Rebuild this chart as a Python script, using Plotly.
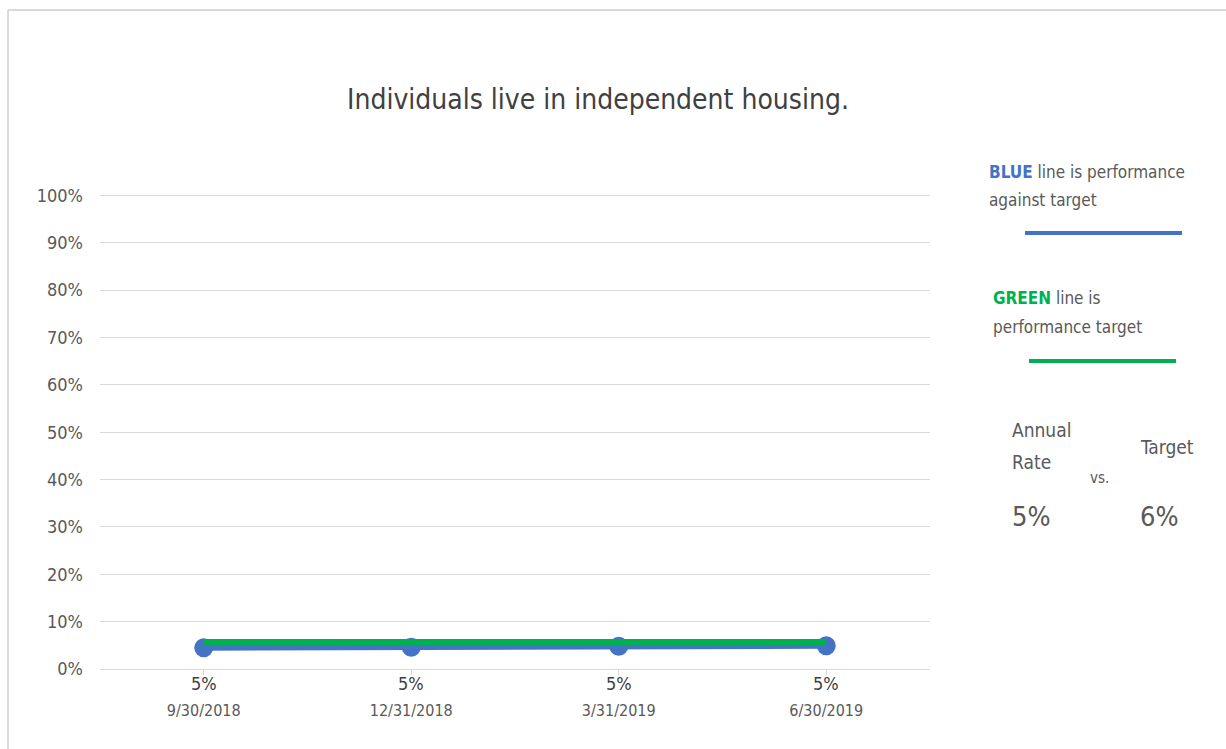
import plotly.graph_objects as go

categories = ["9/30/2018", "12/31/2018", "3/31/2019", "6/30/2019"]
performance = [0.045, 0.046, 0.048, 0.049]
target = [0.057, 0.057, 0.057, 0.057]
data_labels = ["5%", "5%", "5%", "5%"]
annual_rate = "5%"
annual_target = "6%"
title_text = "Individuals live in independent housing."

FONT = "Liberation Sans Narrow, DejaVu Sans Condensed, Open Sans, sans-serif"
GREY = "#595959"
BLUE = "#4472C4"
GREEN = "#00B050"

fig = go.Figure()
fig.add_trace(go.Scatter(
    x=categories, y=performance, mode="lines+markers",
    line=dict(color=BLUE, width=6),
    marker=dict(color=BLUE, size=19),
    showlegend=False, hoverinfo="skip"))
fig.add_trace(go.Scatter(
    x=categories, y=target, mode="lines",
    line=dict(color=GREEN, width=6),
    showlegend=False, hoverinfo="skip"))


def sx(v):
    return (v - 100) / 830


def sy(v):
    return (669 - v) / 475


annotations = []
for c, lab in zip(categories, data_labels):
    annotations.append(dict(x=c, y=0, xref="x", yref="y", text=lab,
                            showarrow=False, yshift=-14,
                            font=dict(family=FONT, size=18, color="#404040")))

annotations.append(dict(x=sx(598), y=sy(100), xref="paper", yref="paper", text=title_text,
                        showarrow=False, xanchor="center", yanchor="middle",
                        font=dict(family=FONT, size=28, color="#404040")))

legend_items = [
    (987, 172, f"<b><span style='color:{BLUE}'>BLUE</span></b> line is performance", 17),
    (987, 200, "against target", 17),
    (991, 298, f"<b><span style='color:{GREEN}'>GREEN</span></b> line is", 17),
    (991, 327, "performance target", 17),
    (1010, 430, "Annual", 19),
    (1010, 462, "Rate", 19),
    (1088, 478, "vs.", 15),
    (1138, 447, "Target", 19),
    (1010, 516, annual_rate, 27),
    (1138, 516, annual_target, 27),
]

for xp, yp, t, s in legend_items:
    annotations.append(dict(x=sx(xp), y=sy(yp), xref="paper", yref="paper", text=t,
                            showarrow=False, xanchor="left", yanchor="middle",
                            font=dict(family=FONT, size=s, color=GREY)))

shapes = [
    dict(type="line", xref="paper", yref="paper", x0=sx(1025), x1=sx(1182), y0=sy(233), y1=sy(233),
         line=dict(color=BLUE, width=4)),
    dict(type="line", xref="paper", yref="paper", x0=sx(1029), x1=sx(1176), y0=sy(361), y1=sy(361),
         line=dict(color=GREEN, width=4)),
    dict(type="line", xref="paper", yref="paper", x0=sx(8), x1=sx(1226), y0=sy(10), y1=sy(10),
         line=dict(color="#D9D9D9", width=2)),
    dict(type="line", xref="paper", yref="paper", x0=sx(8), x1=sx(8), y0=sy(10), y1=sy(749),
         line=dict(color="#D9D9D9", width=2)),
]

fig.update_layout(
    width=1226, height=749,
    margin=dict(l=100, r=296, t=194, b=80),
    paper_bgcolor="white", plot_bgcolor="white",
    annotations=annotations, shapes=shapes,
    xaxis=dict(type="category", range=[-0.5, 3.5], showgrid=False,
               showline=True, linecolor="#D9D9D9", linewidth=1,
               ticks="outside", ticklen=5, tickcolor="#D9D9D9",
               tickfont=dict(family=FONT, size=16, color=GREY),
               ticklabelstandoff=22, zeroline=False, fixedrange=True),
    yaxis=dict(range=[0, 1.003], tickvals=[i / 10 for i in range(11)],
               tickformat=".0%", showgrid=True, gridcolor="#D9D9D9", gridwidth=1,
               zeroline=False, showline=False,
               tickfont=dict(family=FONT, size=18, color=GREY),
               ticklabelstandoff=16, fixedrange=True),
)

fig.write_html("out.html")
